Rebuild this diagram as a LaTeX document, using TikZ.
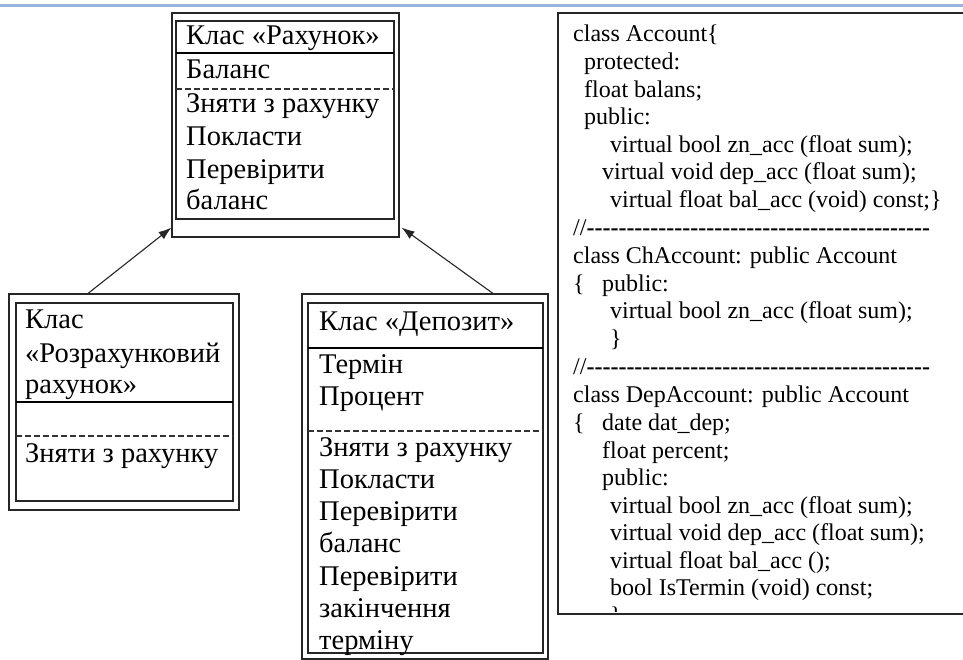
\documentclass[tikz,border=0pt]{standalone}
\usepackage{fontspec}
\setmainfont{Liberation Serif}
\usetikzlibrary{arrows.meta}
\definecolor{topblue}{RGB}{150,180,222}
\newcommand{\dsh}{\mbox{\bfseries -}}
\newcommand{\dashrow}{//\foreach \k in {1,...,43}{\dsh}}
\tikzset{
  frame/.style={draw=black!85, line width=1.1pt, inner sep=0pt, fill=none},
  inner/.style={draw=black!85, line width=1.1pt},
  thick sep/.style={draw=black, line width=1.8pt},
  dash sep/.style={draw=black!80, line width=1.2pt, dash pattern=on 6pt off 3pt},
  ctxt/.style={anchor=base west, inner sep=0pt, font=\fontsize{28.5}{33}\selectfont},
  code/.style={anchor=base west, inner sep=0pt, font=\fontsize{24}{27.6}\selectfont},
  arr/.style={draw=black!85, line width=1.1pt, -{Latex[length=13pt,width=9pt]}}
}
\begin{document}
\begin{tikzpicture}[x=1pt,y=-1pt]
\useasboundingbox (0,0) rectangle (963,660);
\fill[white] (0,0) rectangle (963,660);
% top blue line
\fill[topblue] (0,4) rectangle (963,6.7);
% ---------- class Account box ----------
\node[frame, minimum width=227pt, minimum height=224pt] (acc) at (285.5,125) {};
\draw[inner] (176,21) rectangle (394,219);
\draw[thick sep] (176,53) -- (394,53);
\draw[dash sep] (176,89) -- (394,89);
\node[ctxt] (a1) at (186,45) {Клас «Рахунок»};
\node[ctxt] (a2) at (186,79) {Баланс};
\node[ctxt] (a3) at (186,113) {Зняти з рахунку};
\node[ctxt] (a4) at (186,146) {Покласти};
\node[ctxt] (a5) at (186,179) {Перевірити};
\node[ctxt] (a6) at (186,210) {баланс};
% ---------- class Rozrakhunkovyi box ----------
\node[frame, minimum width=230pt, minimum height=216pt] (ch) at (124,402) {};
\draw[inner] (16,303) rectangle (233,501);
\draw[thick sep] (16,402) -- (233,402);
\draw[dash sep] (16,436) -- (233,436);
\node[ctxt] (b1) at (25,328) {Клас};
\node[ctxt] (b2) at (25,362) {«Розрахунковий};
\node[ctxt] (b3) at (25,393) {рахунок»};
\node[ctxt] (b4) at (25,462) {Зняти з рахунку};
% ---------- class Deposit box ----------
\node[frame, minimum width=246pt, minimum height=365pt] (dep) at (425,476.5) {};
\draw[inner] (308,303) rectangle (543,653);
\draw[thick sep] (308,348) -- (543,348);
\draw[dash sep] (308,431) -- (543,431);
\node[ctxt] (d1) at (319,330) {Клас «Депозит»};
\node[ctxt] (d2) at (319,373) {Термін};
\node[ctxt] (d3) at (319,405) {Процент};
\node[ctxt] (d4) at (319,456) {Зняти з рахунку};
\node[ctxt] (d5) at (319,488) {Покласти};
\node[ctxt] (d6) at (319,520) {Перевірити};
\node[ctxt] (d7) at (319,552) {баланс};
\node[ctxt] (d8) at (319,585) {Перевірити};
\node[ctxt] (d9) at (319,617) {закінчення};
\node[ctxt] (d10) at (319,649) {терміну};
% ---------- arrows ----------
\draw[arr] ([xshift=-36pt]ch.north) -- ([yshift=10pt]acc.south west);
\draw[arr] ([xshift=68pt]dep.north) -- ([xshift=2pt,yshift=10pt]acc.south east);
% ---------- code box ----------
\draw[draw=black!85, line width=1.3pt] (975,13) -- (558,13) -- (558,614) -- (975,614);
\node[code] (c1) at (573,42) {class Account\{};
\node[code] (c2) at (584,70) {protected:};
\node[code] (c3) at (584,98) {float balans;};
\node[code] (c4) at (584,125) {public:};
\node[code] (c5) at (610,153) {virtual bool zn\_acc (float sum);};
\node[code] (c6) at (602,180) {virtual void dep\_acc (float sum);};
\node[code] (c7) at (610,208) {virtual float bal\_acc (void) const;\}};
\node[code] (c8) at (573,236) {\dashrow};
\node[code] (c9) at (573,263) {class ChAccount: public Account};
\node[code] (c10a) at (573,291) {\{};
\node[code] (c10b) at (602,291) {public:};
\node[code] (c11) at (610,318) {virtual bool zn\_acc (float sum);};
\node[code] (c12) at (610,346) {\}};
\node[code] (c13) at (573,374) {\dashrow};
\node[code] (c14) at (573,402) {class DepAccount: public Account};
\node[code] (c15a) at (573,430) {\{};
\node[code] (c15b) at (602,430) {date dat\_dep;};
\node[code] (c16) at (602,458) {float percent;};
\node[code] (c17) at (602,485) {public:};
\node[code] (c18) at (610,513) {virtual bool zn\_acc (float sum);};
\node[code] (c19) at (610,540) {virtual void dep\_acc (float sum);};
\node[code] (c20) at (610,568) {virtual float bal\_acc ();};
\node[code] (c21) at (610,595) {bool IsTermin (void) const;};
\begin{scope}
\clip (560,15) rectangle (963,611);
\node[code] (c22) at (610,623) {\}};
\end{scope}
\end{tikzpicture}
\end{document}
